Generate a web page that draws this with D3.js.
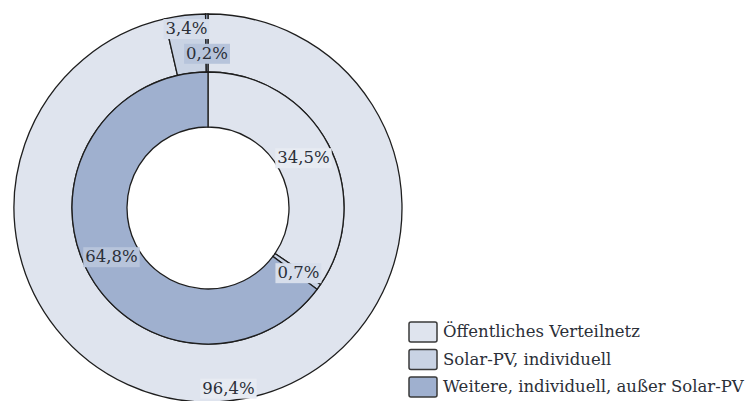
<!DOCTYPE html>
<html>
<head>
<meta charset="utf-8">
<script src="https://cdnjs.cloudflare.com/ajax/libs/d3/7.8.5/d3.min.js"></script>
<style>
  body { margin: 0; background: #fff; }
  text { font-family: "DejaVu Serif", "Liberation Serif", serif; fill: #2b2f38; }
</style>
</head>
<body>
<div id="chart"></div>
<script>
var categories = ["Öffentliches Verteilnetz", "Solar-PV, individuell", "Weitere, individuell, außer Solar-PV"];
var outerValues = [96.4, 3.4, 0.2];
var innerValues = [34.5, 0.7, 64.8];
var colors = ["#dfe4ee", "#c9d3e4", "#9fb0cf"];

// label radius per ring (outer labels pushed outward a bit like the original)
var outerLabelR = [181, 181, 155];
var innerLabelR = [108, 111, 108];

function fmt(v) { return d3.format(".1f")(v).replace(".", ",") + "%"; }

var w = 750, h = 401;
var cx = 208, cy = 208;
var rHole = 81, rMid = 136, rOut = 194;

var svg = d3.select("#chart").append("svg")
    .attr("width", w)
    .attr("height", h);

var g = svg.append("g").attr("transform", "translate(" + cx + "," + cy + ")");

var pie = d3.pie().sort(null).value(function(d) { return d; });

var color = d3.scaleOrdinal().domain(d3.range(3)).range(colors);

var arcOuter = d3.arc().innerRadius(rMid).outerRadius(rOut);
var arcInner = d3.arc().innerRadius(rHole).outerRadius(rMid);

var outerPie = pie(outerValues);
var innerPie = pie(innerValues);

g.selectAll("path.outer")
    .data(outerPie)
    .enter().append("path")
    .attr("class", "outer")
    .attr("d", arcOuter)
    .attr("fill", function(d, i) { return color(i); })
    .attr("stroke", "#1e1e1e")
    .attr("stroke-width", 1.3);

g.selectAll("path.inner")
    .data(innerPie)
    .enter().append("path")
    .attr("class", "inner")
    .attr("d", arcInner)
    .attr("fill", function(d, i) { return color(i); })
    .attr("stroke", "#1e1e1e")
    .attr("stroke-width", 1.3);

// labels with little boxes behind them
function addLabels(data, radii) {
    data.forEach(function(d, i) {
        var a = (d.startAngle + d.endAngle) / 2;
        var r = radii[i];
        var x = r * Math.sin(a), y = -r * Math.cos(a);
        var lg = g.append("g").attr("transform", "translate(" + x + "," + y + ")");
        var t = lg.append("text")
            .attr("text-anchor", "middle")
            .attr("dy", "0.35em")
            .style("font-size", "16.5px")
            .text(fmt(d.data));
        var bb = t.node().getBBox();
        lg.insert("rect", "text")
            .attr("x", bb.x - 2)
            .attr("y", bb.y)
            .attr("width", bb.width + 4)
            .attr("height", bb.height + 1)
            .attr("fill", d3.interpolateRgb(color(i), "#ffffff")(0.25));
    });
}
addLabels(outerPie, outerLabelR);
addLabels(innerPie, innerLabelR);

// legend
var legend = svg.append("g").attr("transform", "translate(409, 322)");
var rows = legend.selectAll("g")
    .data(categories)
    .enter().append("g")
    .attr("transform", function(d, i) { return "translate(0," + (i * 27.5) + ")"; });

rows.append("rect")
    .attr("width", 28)
    .attr("height", 20)
    .attr("rx", 2)
    .attr("fill", function(d, i) { return color(i); })
    .attr("stroke", "#3a3a3a")
    .attr("stroke-width", 1.5);

rows.append("text")
    .attr("x", 34)
    .attr("y", 15)
    .style("font-size", "16.5px")
    .text(function(d) { return d; });
</script>
</body>
</html>
